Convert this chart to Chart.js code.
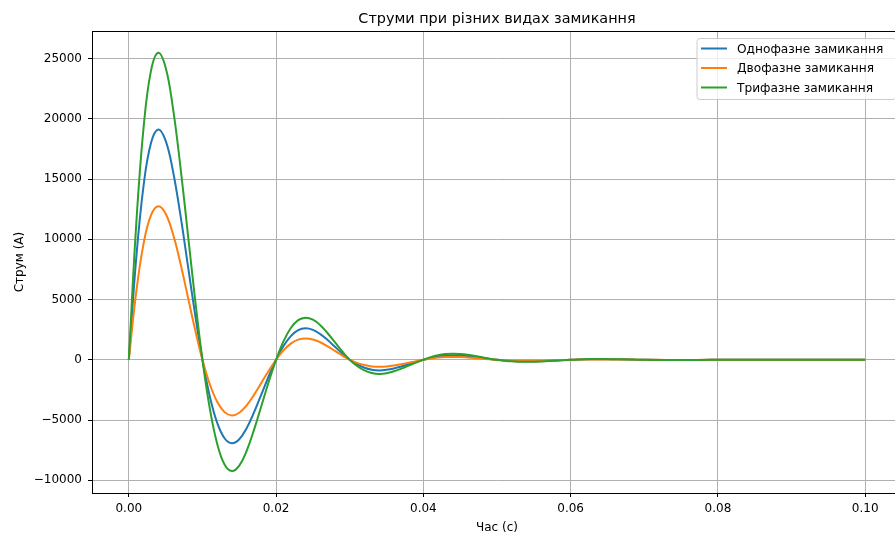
<!DOCTYPE html>
<html>
<head>
<meta charset="utf-8">
<script src="https://cdn.jsdelivr.net/npm/chart.js@4.4.0/dist/chart.umd.min.js"></script>
<style>
  html, body { margin: 0; padding: 0; background: #fff; overflow: hidden; }
  #wrap { width: 910px; height: 533px; position: relative; }
</style>
</head>
<body>
<div id="wrap"><canvas id="c" width="910" height="533"></canvas></div>
<script>
const titleText = 'Струми при різних видах замикання';
const xLabel = 'Час (с)';
const yLabel = 'Струм (А)';
const seriesNames = ['Однофазне замикання', 'Двофазне замикання', 'Трифазне замикання'];
const seriesColors = ['#1f77b4', '#ff7f0e', '#2ca02c'];

const times = [
  0.000, 0.001, 0.002, 0.003, 0.004, 0.005, 0.006, 0.007, 0.008, 0.009,
  0.010, 0.011, 0.012, 0.013, 0.014, 0.015, 0.016, 0.017, 0.018, 0.019,
  0.020, 0.021, 0.022, 0.023, 0.024, 0.025, 0.026, 0.027, 0.028, 0.029,
  0.030, 0.031, 0.032, 0.033, 0.034, 0.035, 0.036, 0.037, 0.038, 0.039,
  0.040, 0.041, 0.042, 0.043, 0.044, 0.045, 0.046, 0.047, 0.048, 0.049,
  0.050, 0.051, 0.052, 0.053, 0.054, 0.055, 0.056, 0.057, 0.058, 0.059,
  0.060, 0.061, 0.062, 0.063, 0.064, 0.065, 0.066, 0.067, 0.068, 0.069,
  0.070, 0.072, 0.074, 0.076, 0.078, 0.080, 0.085, 0.090, 0.095, 0.100
];

const singlePhase = [
  0, 8390, 14440, 17980, 19125, 18195, 15660, 12050, 7920, 3770,
  0, -3045, -5230, -6515, -6930, -6595, -5675, -4370, -2870, -1365,
  0, 1140, 1970, 2460, 2610, 2480, 2130, 1640, 1075, 515,
  0, -380, -660, -825, -880, -835, -720, -550, -365, -170,
  0, 160, 275, 345, 365, 350, 300, 230, 150, 70,
  0, -55, -95, -120, -130, -125, -105, -80, -55, -25,
  0, 20, 35, 45, 50, 45, 40, 30, 20, 10,
  0, -10, -15, -15, -10, 0, 5, 0, 0, 0
];

const twoPhase = [
  0, 5590, 9625, 11985, 12750, 12130, 10440, 8035, 5280, 2510,
  0, -2030, -3485, -4345, -4620, -4395, -3780, -2910, -1915, -910,
  0, 780, 1340, 1670, 1775, 1690, 1455, 1120, 735, 350,
  0, -260, -440, -550, -585, -555, -480, -370, -245, -115,
  0, 105, 180, 225, 240, 230, 195, 150, 100, 45,
  0, -40, -65, -80, -85, -80, -70, -55, -35, -15,
  0, 15, 25, 30, 30, 30, 25, 20, 15, 5,
  0, -5, -10, -10, -5, 0, 5, 0, 0, 0
];

const threePhase = [
  0, 11185, 19250, 23970, 25500, 24260, 20880, 16070, 10565, 5025,
  0, -4055, -6975, -8690, -9240, -8790, -7565, -5820, -3830, -1820,
  0, 1530, 2640, 3290, 3500, 3330, 2870, 2205, 1450, 690,
  0, -510, -885, -1095, -1170, -1115, -955, -735, -485, -230,
  0, 220, 380, 475, 505, 480, 415, 320, 205, 95,
  0, -75, -130, -160, -170, -165, -140, -110, -70, -35,
  0, 30, 50, 60, 65, 60, 50, 40, 30, 10,
  0, -15, -25, -25, -15, 0, 5, 0, 0, 0
];

const xTicks = [0.00, 0.02, 0.04, 0.06, 0.08, 0.10];
const yTicks = [-10000, -5000, 0, 5000, 10000, 15000, 20000, 25000];

const FONT = "'DejaVu Sans', 'Liberation Sans', sans-serif";

function pts(vals) { return times.map((t, i) => ({ x: t, y: vals[i] })); }

const allSeries = [singlePhase, twoPhase, threePhase];
const datasets = allSeries.map((vals, i) => ({
  label: seriesNames[i],
  data: pts(vals),
  borderColor: seriesColors[i],
  backgroundColor: seriesColors[i],
  borderWidth: 2,
  pointRadius: 0,
  tension: 0.4,
  fill: false,
  order: 3 - i
}));

const extras = {
  id: 'extras',
  afterDraw(chart) {
    const ctx = chart.ctx;
    const a = chart.chartArea;
    ctx.save();
    // frame
    ctx.strokeStyle = '#000';
    ctx.lineWidth = 1;
    ctx.strokeRect(Math.round(a.left) + 0.5, Math.round(a.top) + 0.5,
                   Math.round(a.right - a.left), Math.round(a.bottom - a.top));
    // title
    ctx.fillStyle = '#000';
    ctx.font = '14.4px ' + FONT;
    ctx.textAlign = 'center';
    ctx.textBaseline = 'middle';
    const cx = (a.left + a.right) / 2;
    ctx.fillText(titleText, cx, 19);
    // axis labels
    ctx.font = '12px ' + FONT;
    ctx.fillText(xLabel, cx, 527.5);
    ctx.save();
    ctx.translate(20, (a.top + a.bottom) / 2);
    ctx.rotate(-Math.PI / 2);
    ctx.fillText(yLabel, 0, 0);
    ctx.restore();
    // legend
    const lx = 697, ly = 38.5, lw = 199, lh = 61, r = 3;
    ctx.beginPath();
    ctx.moveTo(lx + r, ly);
    ctx.lineTo(lx + lw - r, ly);
    ctx.arcTo(lx + lw, ly, lx + lw, ly + r, r);
    ctx.lineTo(lx + lw, ly + lh - r);
    ctx.arcTo(lx + lw, ly + lh, lx + lw - r, ly + lh, r);
    ctx.lineTo(lx + r, ly + lh);
    ctx.arcTo(lx, ly + lh, lx, ly + lh - r, r);
    ctx.lineTo(lx, ly + r);
    ctx.arcTo(lx, ly, lx + r, ly, r);
    ctx.closePath();
    ctx.fillStyle = 'rgba(255,255,255,0.8)';
    ctx.fill();
    ctx.strokeStyle = '#cccccc';
    ctx.lineWidth = 1;
    ctx.stroke();
    const rows = [48.5, 68, 87.5];
    ctx.textAlign = 'left';
    ctx.font = '12.2px ' + FONT;
    chart.data.datasets.forEach((ds, i) => {
      ctx.strokeStyle = ds.borderColor;
      ctx.lineWidth = 2;
      ctx.beginPath();
      ctx.moveTo(701, rows[i]);
      ctx.lineTo(727, rows[i]);
      ctx.stroke();
      ctx.fillStyle = '#000';
      ctx.fillText(ds.label, 737, rows[i] + 1);
    });
    ctx.restore();
  }
};

new Chart(document.getElementById('c'), {
  type: 'line',
  data: { datasets },
  options: {
    responsive: false,
    animation: false,
    devicePixelRatio: 1,
    layout: { padding: { left: 0, top: 31, right: 8, bottom: 0 } },
    plugins: {
      legend: { display: false },
      title: { display: false },
      tooltip: { enabled: false }
    },
    scales: {
      x: {
        type: 'linear',
        min: -0.005,
        max: 0.105,
        afterBuildTicks: s => { s.ticks = xTicks.map(v => ({ value: v })); },
        afterFit: s => { s.height = 40; },
        ticks: {
          callback: v => Number(v).toFixed(2),
          color: '#000',
          font: { family: FONT, size: 12 },
          padding: 5,
          maxRotation: 0,
          autoSkip: false
        },
        grid: { color: '#b0b0b0', lineWidth: 1, tickColor: '#000', tickLength: 4, drawTicks: true },
        border: { color: '#000', width: 1 }
      },
      y: {
        type: 'linear',
        min: -11060,
        max: 27300,
        afterBuildTicks: s => { s.ticks = yTicks.map(v => ({ value: v })); },
        afterFit: s => { s.width = 92; },
        ticks: {
          callback: v => (v < 0 ? '\u2212' + Math.abs(v) : String(v)),
          color: '#000',
          font: { family: FONT, size: 12 },
          padding: 6,
          autoSkip: false
        },
        grid: { color: '#b0b0b0', lineWidth: 1, tickColor: '#000', tickLength: 4, drawTicks: true },
        border: { color: '#000', width: 1 }
      }
    }
  },
  plugins: [extras]
});
</script>
</body>
</html>
